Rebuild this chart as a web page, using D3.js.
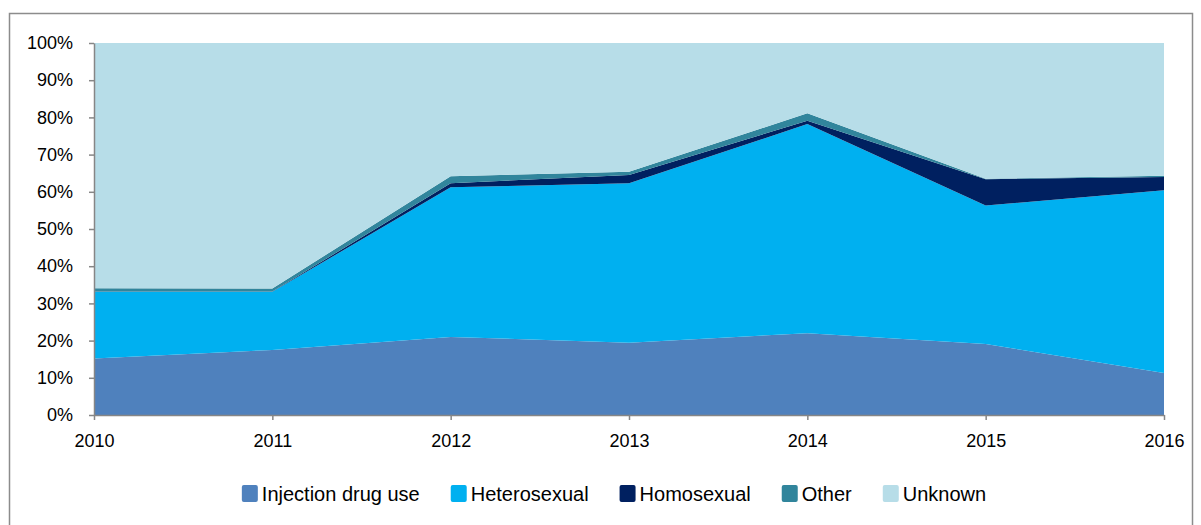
<!DOCTYPE html>
<html><head><meta charset="utf-8">
<script src="https://cdn.jsdelivr.net/npm/d3@7"></script>
<style>body{margin:0;background:#fff}svg{display:block}</style>
</head><body>
<svg id="c" width="1201" height="525"></svg>
<script>
const years = [2010, 2011, 2012, 2013, 2014, 2015, 2016];
const injectionDrugUse = [15.2, 17.5, 21.0, 19.4, 22.0, 19.1, 11.3];
const heterosexual     = [17.9, 15.6, 40.2, 42.9, 56.2, 37.2, 49.1];
const homosexual       = [0.1, 0.1, 1.1, 2.2, 0.9, 7.1, 3.6];
const other            = [0.9, 0.8, 1.9, 0.9, 2.0, 0.1, 0.3];
const unknown          = years.map((_, i) => 100 - injectionDrugUse[i] - heterosexual[i] - homosexual[i] - other[i]);
const seriesNames = ["Injection drug use", "Heterosexual", "Homosexual", "Other", "Unknown"];
const seriesColors = ["#4F81BD", "#00B0F0", "#002060", "#31859C", "#B7DDE8"];
const yTicks = [0, 10, 20, 30, 40, 50, 60, 70, 80, 90, 100];

const seriesValues = [injectionDrugUse, heterosexual, homosexual, other, unknown];
const rows = years.map((y, i) => {
  const r = {year: y};
  seriesNames.forEach((n, k) => r[n] = seriesValues[k][i]);
  return r;
});

const svg = d3.select("#c");
const font = "'Liberation Sans', Arial, sans-serif";
const axisColor = "#868686";

svg.append("rect").attr("x", 9.5).attr("y", 13.5).attr("width", 1183).attr("height", 520)
  .attr("fill", "none").attr("stroke", "#8c8c8c").attr("stroke-width", 1.5);

const x = d3.scaleLinear().domain([2010, 2016]).range([94, 1164]);
const y = d3.scaleLinear().domain([0, 100]).range([415, 43]);

const stack = d3.stack().keys(seriesNames);
const stacked = stack(rows);
const area = d3.area().x(d => x(d.data.year)).y0(d => y(d[0])).y1(d => y(d[1]));

svg.append("g").selectAll("path").data(stacked).join("path")
  .attr("d", area).attr("fill", (d, i) => seriesColors[i]);

// Y axis
const yAxis = d3.axisLeft(y).tickValues(yTicks).tickFormat(d => d + "%").tickSizeOuter(0).tickSizeInner(5).tickPadding(16);
const gy = svg.append("g").attr("transform", "translate(94,0)").call(yAxis);
gy.select(".domain").attr("stroke", axisColor).attr("stroke-width", 1.5);
gy.selectAll(".tick line").attr("stroke", axisColor).attr("stroke-width", 1.5);
gy.selectAll(".tick text").attr("font-family", font).attr("font-size", 18).attr("fill", "#000");

// X axis
const xAxis = d3.axisBottom(x).tickValues(years).tickFormat(d3.format("d")).tickSizeOuter(0).tickSizeInner(5).tickPadding(14);
const gx = svg.append("g").attr("transform", "translate(0,415)").call(xAxis);
gx.select(".domain").attr("stroke", axisColor).attr("stroke-width", 1.5);
gx.selectAll(".tick line").attr("stroke", axisColor).attr("stroke-width", 1.5);
gx.selectAll(".tick text").attr("font-family", font).attr("font-size", 18).attr("fill", "#000");

// Legend
const lg = svg.append("g");
const items = lg.selectAll("g").data(seriesNames).join("g");
items.append("rect").attr("width", 16).attr("height", 17).attr("rx", 2).attr("y", -9)
  .attr("fill", (d, i) => seriesColors[i]);
items.append("text").attr("x", 20).attr("dy", "0.35em").text(d => d)
  .attr("font-family", font).attr("font-size", 20).attr("fill", "#000");
let cx = 0;
const gap = 31;
items.each(function() {
  const w = 20 + this.querySelector("text").getComputedTextLength();
  d3.select(this).attr("transform", `translate(${cx},0)`);
  cx += w + gap;
});
const total = cx - gap;
lg.attr("transform", `translate(${614 - total / 2},494)`);
</script>
</body></html>
